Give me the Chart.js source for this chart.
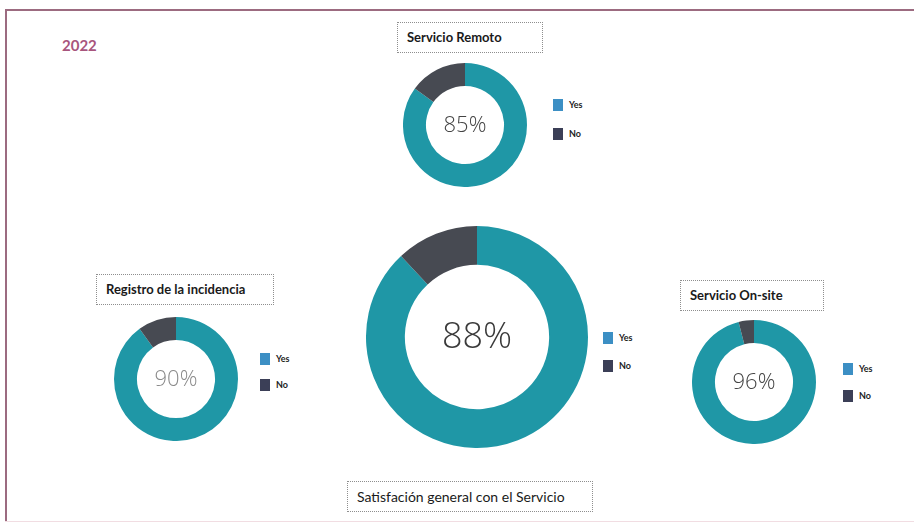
<!DOCTYPE html>
<html>
<head>
<meta charset="utf-8">
<script src="https://cdn.jsdelivr.net/npm/chart.js@4.4.1/dist/chart.umd.min.js"></script>
<style>
  html, body { margin: 0; padding: 0; background: #fff; }
  #stage { position: relative; width: 914px; height: 524px; overflow: hidden; font-family: Lato, "Open Sans", sans-serif; }
  .frame-top { position: absolute; left: 5px; top: 9px; width: 920px; height: 2px; background: #9c6b80; }
  .frame-left { position: absolute; left: 5px; top: 9px; width: 2px; height: 513px; background: #9c6b80; }
  .frame-bottom { position: absolute; left: 5px; top: 521px; width: 920px; height: 1px; background: #f1dde2; }
  .year { position: absolute; left: 62px; top: 36px; font-size: 15px; font-weight: 700; color: #a8557d; }
  .ttl { position: absolute; box-sizing: border-box; border: 1px dotted #8e8e8e; font-size: 13px; font-weight: 700; color: #1a1a1a; line-height: 29px; padding-left: 9px; white-space: nowrap; }
  .ttl.reg { font-weight: 400; font-size: 14px; }
  canvas { position: absolute; }
  .lg { position: absolute; font-size: 9px; font-weight: 700; color: #222; }
  .lg div { position: absolute; white-space: nowrap; }
  .lg span { position: absolute; left: 0; width: 10px; height: 12px; }
  .lg b { position: absolute; left: 16px; top: 0; line-height: 12px; font-weight: 700; }
</style>
</head>
<body>
<div id="stage">
  <div class="frame-top"></div>
  <div class="frame-left"></div>
  <div class="frame-bottom"></div>
  <div class="year">2022</div>
</div>
<script>
(function(){
  var labels = ['Yes', 'No'];
  var remoto = [85, 15];
  var registro = [90, 10];
  var satisfaccion = [88, 12];
  var onsite = [96, 4];

  var ringColors = ['#1f97a6', '#474a52'];
  var legendColors = ['#3c8fc4', '#3b3f57'];

  var charts = [
    { id: 'remoto', title: 'Servicio Remoto', data: remoto, cx: 465, cy: 125, r: 62, cut: '63%',
      font: 22, txtColor: '#444', box: [397, 22, 146, 31], legend: [553, 99, 128] },
    { id: 'registro', title: 'Registro de la incidencia', data: registro, cx: 176, cy: 379, r: 62, cut: '63%',
      font: 22, txtColor: '#8a8a8a', box: [96, 274, 178, 31], legend: [260, 353, 379] },
    { id: 'satisf', title: 'Satisfación general con el Servicio', data: satisfaccion, cx: 477, cy: 337, r: 111, cut: '65%',
      font: 36, txtColor: '#3a3a3a', box: [347, 481, 246, 31], legend: [603, 332, 360], plain: true },
    { id: 'onsite', title: 'Servicio On-site', data: onsite, cx: 754, cy: 382, r: 62, cut: '63%',
      font: 22, txtColor: '#444', box: [680, 280, 144, 31], legend: [843, 363, 390] }
  ];

  var stage = document.getElementById('stage');

  var centerText = {
    id: 'centerText',
    afterDatasetsDraw: function(chart, args, opts){
      var arc = chart.getDatasetMeta(0).data[0];
      if(!arc) return;
      var ctx = chart.ctx;
      ctx.save();
      ctx.font = '300 ' + opts.size + 'px "Open Sans", Lato, sans-serif';
      ctx.fillStyle = opts.color;
      ctx.textAlign = 'center';
      ctx.textBaseline = 'middle';
      ctx.fillText(chart.data.datasets[0].data[0] + '%', arc.x, arc.y + 1);
      ctx.restore();
    }
  };

  charts.forEach(function(c){
    // title box
    var t = document.createElement('div');
    t.className = 'ttl' + (c.plain ? ' reg' : '');
    t.style.left = c.box[0] + 'px';
    t.style.top = c.box[1] + 'px';
    t.style.width = c.box[2] + 'px';
    t.style.height = c.box[3] + 'px';
    t.textContent = c.title;
    stage.appendChild(t);

    // canvas
    var size = c.r * 2;
    var cv = document.createElement('canvas');
    cv.width = size; cv.height = size;
    cv.style.left = (c.cx - c.r) + 'px';
    cv.style.top = (c.cy - c.r) + 'px';
    cv.style.width = size + 'px';
    cv.style.height = size + 'px';
    stage.appendChild(cv);

    new Chart(cv.getContext('2d'), {
      type: 'doughnut',
      data: {
        labels: labels,
        datasets: [{ data: c.data, backgroundColor: ringColors, borderWidth: 0 }]
      },
      options: {
        responsive: false,
        animation: false,
        cutout: c.cut,
        layout: { padding: 0 },
        plugins: {
          legend: { display: false },
          tooltip: { enabled: false },
          centerText: { size: c.font, color: c.txtColor }
        }
      },
      plugins: [centerText]
    });

    // legend
    var lg = document.createElement('div');
    lg.className = 'lg';
    lg.style.left = c.legend[0] + 'px';
    lg.style.top = '0px';
    labels.forEach(function(l, i){
      var row = document.createElement('div');
      row.style.top = c.legend[i + 1] + 'px';
      var sw = document.createElement('span');
      sw.style.background = legendColors[i];
      var tx = document.createElement('b');
      tx.textContent = l;
      row.appendChild(sw); row.appendChild(tx);
      lg.appendChild(row);
    });
    stage.appendChild(lg);
  });
})();
</script>
</body>
</html>
